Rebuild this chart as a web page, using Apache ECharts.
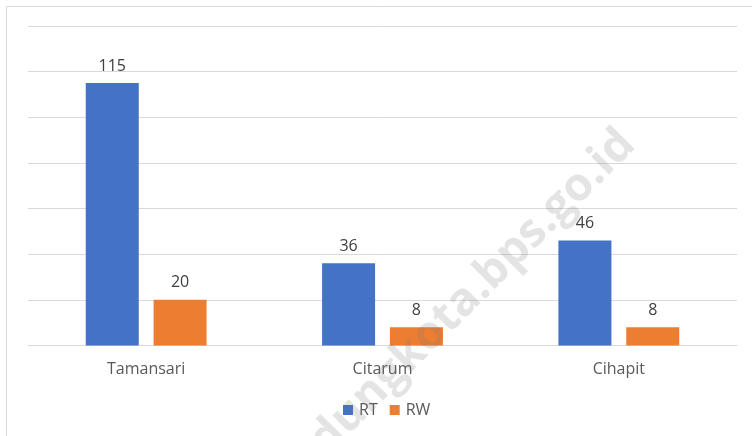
<!DOCTYPE html>
<html>
<head>
<meta charset="utf-8">
<script src="https://cdn.jsdelivr.net/npm/echarts@6/dist/echarts.min.js"></script>
<style>html,body{margin:0;padding:0;background:#fff}#c{width:752px;height:436px}</style>
</head>
<body>
<div id="c"></div>
<script>
const categories = ['Tamansari', 'Citarum', 'Cihapit'];
const rtValues = [115, 36, 46];
const rwValues = [20, 8, 8];
const seriesNames = ['RT', 'RW'];

const chart = echarts.init(document.getElementById('c'), null, {renderer: 'canvas'});
const fontFam = '"Open Sans", "Noto Sans", sans-serif';
const labelStyle = {show: true, position: 'top', color: '#404040', fontSize: 16, fontFamily: fontFam, distance: 9};
chart.setOption({
  animation: false,
  backgroundColor: '#fff',
  grid: {left: 28, right: 15, top: 26, bottom: 90.5, containLabel: false},
  legend: {
    data: seriesNames, bottom: 13, left: 338, itemWidth: 10, itemHeight: 10, itemGap: 12,
    icon: 'rect',
    textStyle: {color: '#595959', fontSize: 16, fontFamily: fontFam, padding: [0,0,0,1]}
  },
  xAxis: {
    type: 'category', data: categories,
    axisLine: {lineStyle: {color: '#d9d9d9', width: 1}},
    axisTick: {show: false},
    axisLabel: {color: '#595959', fontSize: 16, fontFamily: fontFam, margin: 16}
  },
  yAxis: {
    type: 'value', min: 0, max: 140, interval: 20,
    axisLabel: {show: false}, axisLine: {show: false}, axisTick: {show: false},
    splitLine: {lineStyle: {color: '#d9d9d9', width: 1}}
  },
  series: [
    {name: 'RT', type: 'bar', data: rtValues, barWidth: 53, barGap: '28%', itemStyle: {color: '#4472c4'}, label: labelStyle},
    {name: 'RW', type: 'bar', data: rwValues, barWidth: 53, itemStyle: {color: '#ed7d31'}, label: labelStyle}
  ],
  graphic: [
    {type: 'rect', left: 4, top: 4, shape: {width: 760, height: 450}, style: {fill: 'none', stroke: '#d9d9d9', lineWidth: 1}, silent: true},
    {type: 'text', x: 442, y: 323, rotation: Math.PI / 4, z: 100,
     style: {text: 'bandungkota.bps.go.id', fill: 'rgba(120,120,120,0.2)', font: 'bold 46px "Open Sans", sans-serif', align: 'center', verticalAlign: 'middle'}}
  ]
});
</script>
</body>
</html>
